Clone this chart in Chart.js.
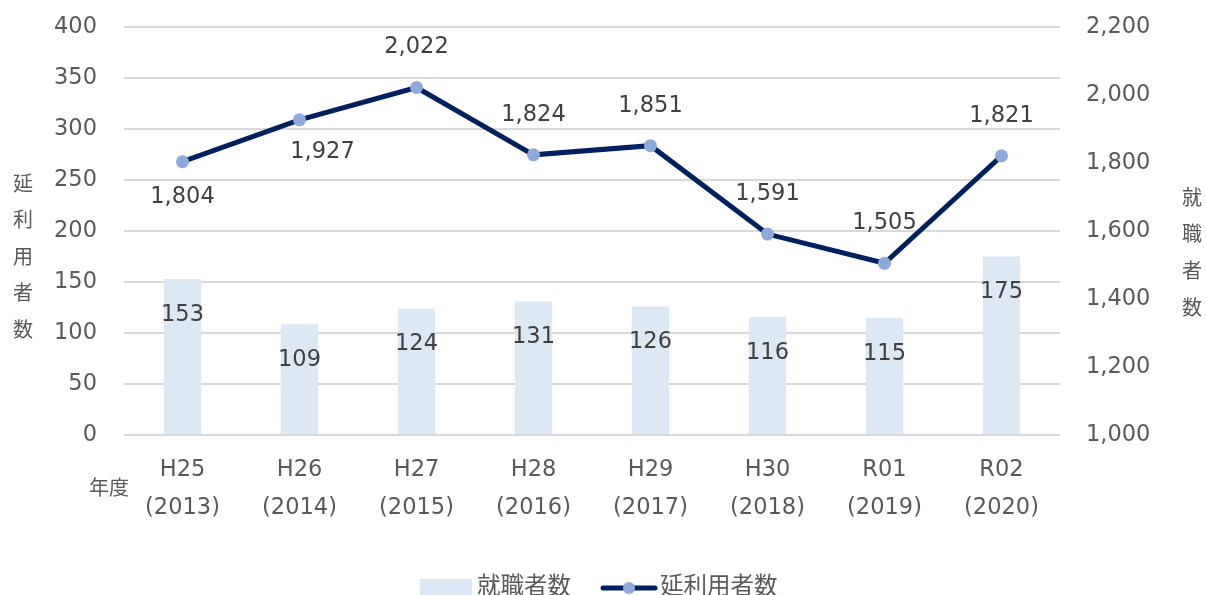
<!DOCTYPE html>
<html>
<head>
<meta charset="utf-8">
<script src="https://cdn.jsdelivr.net/npm/chart.js@4/dist/chart.umd.min.js"></script>
<style>
  html, body { margin: 0; padding: 0; background: #fff; overflow: hidden; }
  canvas { display: block; }
</style>
</head>
<body>
<canvas id="employChart" width="1206" height="595"></canvas>
<script>
// data
const years = [['H25', '(2013)'], ['H26', '(2014)'], ['H27', '(2015)'], ['H28', '(2016)'],
               ['H29', '(2017)'], ['H30', '(2018)'], ['R01', '(2019)'], ['R02', '(2020)']]
const employed = [153, 109, 124, 131, 126, 116, 115, 175]
const users = [1804, 1927, 2022, 1824, 1851, 1591, 1505, 1821]
const leftTicks = [0, 50, 100, 150, 200, 250, 300, 350, 400]
const rightTicks = [1000, 1200, 1400, 1600, 1800, 2000, 2200]

const FONT = '"DejaVu Sans", "Noto Sans CJK JP", sans-serif'
const JP = '"Noto Sans CJK JP", sans-serif'
const barColor = '#dde8f5'
const lineColor = '#002060'
const pointColor = '#8eaadc'

const fmt = (v) => v.toLocaleString('en-US')

// value labels, axis titles and legend drawn by hand
const extras = {
    id: 'extras',
    afterDatasetsDraw(chart) {
        const ctx = chart.ctx
        ctx.save()
        ctx.font = '22.5px ' + FONT
        ctx.fillStyle = '#404040'
        ctx.textAlign = 'center'
        ctx.textBaseline = 'middle'
        chart.getDatasetMeta(0).data.forEach((bar, i) => {
            ctx.fillText(employed[i], bar.x, bar.y + 36)
        })
        chart.getDatasetMeta(1).data.forEach((pt, i) => {
            let dx = 0, dy = -40
            if (i === 0) dy = 36
            if (i === 1) { dx = 23; dy = 32 }
            ctx.fillText(fmt(users[i]), pt.x + dx, pt.y + dy)
        })
        ctx.restore()
    },
    afterDraw(chart) {
        const ctx = chart.ctx
        ctx.save()
        ctx.fillStyle = '#595959'
        ctx.textAlign = 'center'
        ctx.textBaseline = 'middle'
        ctx.font = '20px ' + JP
        '延利用者数'.split('').forEach((c, i) => ctx.fillText(c, 23, 183 + i * 36.5))
        '就職者数'.split('').forEach((c, i) => ctx.fillText(c, 1192, 197 + i * 36.7))
        ctx.fillText('年度', 109, 487)

        // legend
        ctx.fillStyle = barColor
        ctx.fillRect(420, 579, 52, 16)
        ctx.strokeStyle = lineColor
        ctx.lineWidth = 5
        ctx.lineCap = 'round'
        ctx.beginPath()
        ctx.moveTo(603, 588)
        ctx.lineTo(655, 588)
        ctx.stroke()
        ctx.fillStyle = pointColor
        ctx.beginPath()
        ctx.arc(629, 588, 6, 0, Math.PI * 2)
        ctx.fill()
        ctx.fillStyle = '#595959'
        ctx.font = '23.5px ' + JP
        ctx.textAlign = 'left'
        ctx.fillText('就職者数', 477, 585)
        ctx.fillText('延利用者数', 660, 585)
        ctx.restore()
    }
}

// fixed axis widths, and no extra top/bottom room from tick padding
const fitY = (w) => (scale) => {
    scale.width = w
    scale.paddingTop = 0
    scale.paddingBottom = 0
}

const ctx = document.getElementById('employChart').getContext('2d')

new Chart(ctx, {
    data: {
        labels: years,
        datasets: [{
            type: 'bar',
            label: '就職者数',
            data: employed,
            yAxisID: 'y',
            backgroundColor: barColor,
            categoryPercentage: 1,
            barPercentage: 0.32,
            order: 2
        }, {
            type: 'line',
            label: '延利用者数',
            data: users,
            yAxisID: 'y1',
            borderColor: lineColor,
            borderWidth: 5,
            pointRadius: 6.5,
            pointBackgroundColor: pointColor,
            pointBorderWidth: 0,
            tension: 0,
            order: 1
        }]
    },
    options: {
        responsive: false,
        animation: false,
        layout: { padding: { top: 27, left: 0, right: 0, bottom: 0 } },
        plugins: {
            legend: { display: false },
            tooltip: { enabled: false }
        },
        scales: {
            x: {
                grid: { display: false },
                border: { display: false },
                ticks: {
                    color: '#595959',
                    padding: 9,
                    maxRotation: 0,
                    font: { family: FONT, size: 22.5, lineHeight: 1.65 }
                },
                afterFit: (scale) => { scale.height = 160 }
            },
            y: {
                position: 'left',
                min: 0,
                max: 400,
                afterBuildTicks: (scale) => { scale.ticks = leftTicks.map(v => ({ value: v })) },
                grid: { color: '#d9d9d9', lineWidth: 2, drawTicks: false },
                border: { display: false },
                ticks: {
                    color: '#595959',
                    padding: 27,
                    font: { family: FONT, size: 22.5 }
                },
                afterFit: fitY(124)
            },
            y1: {
                position: 'right',
                min: 1000,
                max: 2200,
                afterBuildTicks: (scale) => { scale.ticks = rightTicks.map(v => ({ value: v })) },
                grid: { display: false, drawTicks: false },
                border: { display: false },
                ticks: {
                    color: '#595959',
                    padding: 26,
                    font: { family: FONT, size: 22.5 },
                    callback: (v) => fmt(v)
                },
                afterFit: fitY(146)
            }
        }
    },
    plugins: [extras]
})
</script>
</body>
</html>
